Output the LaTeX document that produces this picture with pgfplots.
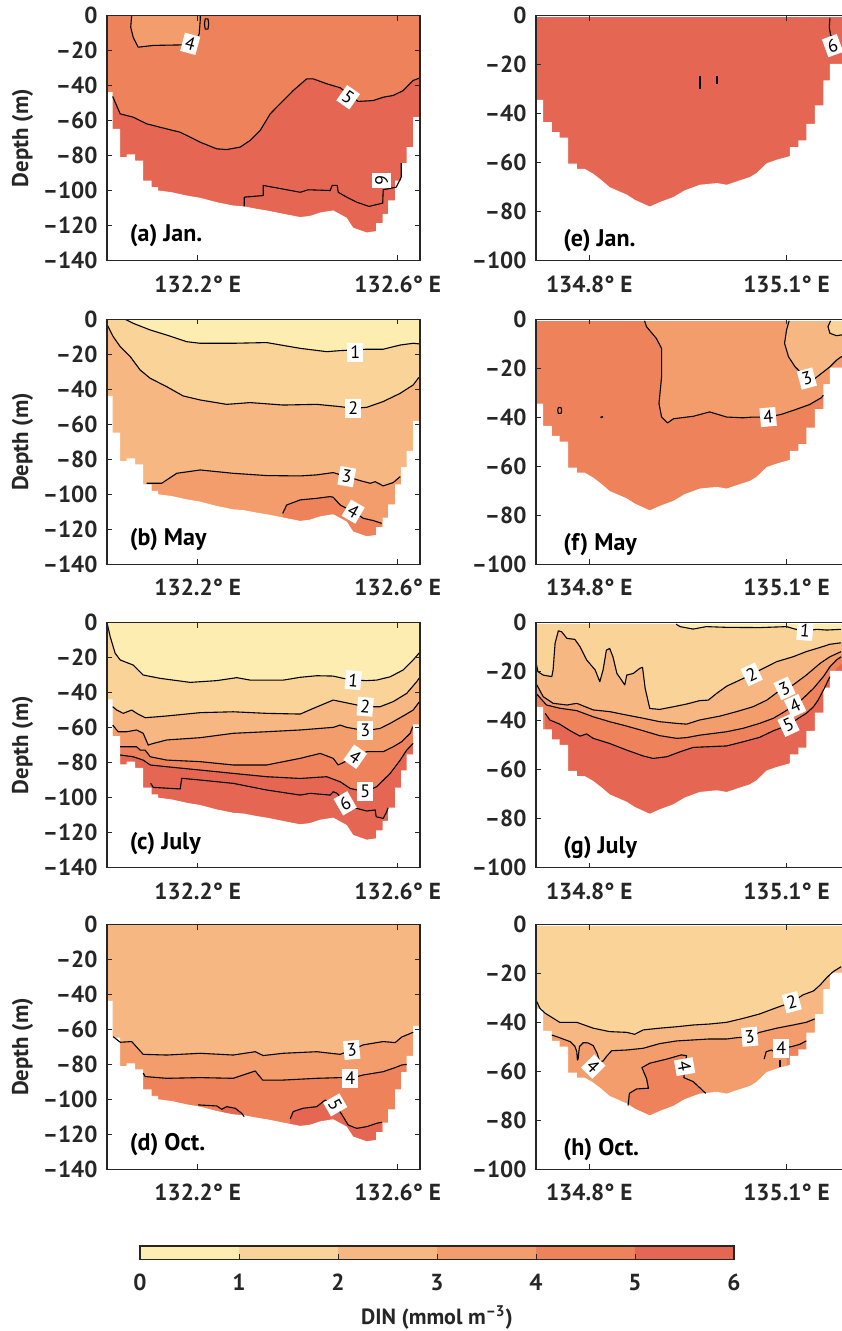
\documentclass[border=0pt]{standalone}
\usepackage{fontspec}
\setmainfont{PT Sans}
\usepackage{pgfplots}
\usepackage{pgfplotstable}
\pgfplotsset{compat=1.18}

\definecolor{c1}{HTML}{FDEDB0}
\definecolor{c2}{HTML}{FAD398}
\definecolor{c3}{HTML}{F6B782}
\definecolor{c4}{HTML}{F29D6B}
\definecolor{c5}{HTML}{ED825B}
\definecolor{c6}{HTML}{E46653}
\definecolor{axgray}{HTML}{262626}

% sea floor, left section (white below it)
\pgfplotstableread{
x y
132.000 -43.8
132.030 -43.8
132.030 -64.8
132.045 -64.8
132.045 -81.0
132.058 -81.0
132.058 -79.4
132.075 -79.4
132.075 -82.9
132.091 -82.9
132.091 -94.3
132.108 -94.3
132.108 -98.1
132.121 -98.1
132.121 -100.0
132.148 -101.0
132.178 -102.9
132.205 -104.2
132.238 -106.7
132.271 -108.6
132.293 -109.1
132.318 -110.5
132.338 -111.4
132.371 -113.3
132.405 -115.2
132.425 -114.5
132.445 -112.6
132.471 -111.4
132.498 -115.6
132.511 -121.3
132.538 -124.0
132.557 -123.2
132.557 -118.7
132.570 -118.7
132.570 -113.3
132.581 -113.3
132.581 -105.7
132.595 -105.7
132.595 -94.3
132.607 -94.3
132.607 -84.4
132.618 -84.4
132.618 -75.2
132.631 -75.2
132.631 -58.1
132.660 -58.1
132.660 -150
132.000 -150
}\bathyL

% sea floor, right section
\pgfplotstableread{
x y
134.700 -34.4
134.730 -34.4
134.730 -43.5
134.743 -43.5
134.743 -47.6
134.755 -47.6
134.755 -49.9
134.768 -49.9
134.768 -60.5
134.781 -60.5
134.781 -62.6
134.793 -62.6
134.806 -64.6
134.819 -67.3
134.831 -70.1
134.857 -73.1
134.869 -75.2
134.892 -78.0
134.907 -76.2
134.928 -74.1
134.945 -71.4
134.968 -69.1
134.994 -68.4
135.009 -69.1
135.029 -67.3
135.044 -66.0
135.054 -64.4
135.070 -60.3
135.085 -58.9
135.105 -57.4
135.105 -53.7
135.118 -53.7
135.118 -51.0
135.130 -51.0
135.130 -44.2
135.143 -44.2
135.143 -36.7
135.156 -36.7
135.156 -26.5
135.166 -26.5
135.166 -19.7
135.210 -19.7
135.210 -150
134.700 -150
}\bathyR

\tikzset{
  cl/.style={black, line width=0.55pt, line join=round},
  clab/.style={fill=white, inner sep=1.5pt, font=\fontsize{9}{10}\selectfont},
  plab/.style={anchor=west, font=\bfseries\fontsize{12}{14}\selectfont, text=black},
}
\pgfplotsset{
  panel/.style={
    scale only axis, width=156.5pt, height=122.5pt, anchor=north west,
    axis on top, tick align=inside, major tick length=2.6pt,
    axis line style={axgray, line width=0.6pt},
    every tick/.append style={axgray, line width=0.5pt},
    tick label style={font=\bfseries\fontsize{11.6}{13}\selectfont, text=axgray},
    xticklabel style={anchor=base, yshift=-15.8pt},
    yticklabel style={anchor=east, xshift=-1.2pt},
  },
  panelL/.style={panel,
    xmin=132.0186, xmax=132.6446, ymin=-140, ymax=0,
    xtick={132.2,132.6}, xticklabels={132.2° E,132.6° E},
    ytick={-140,-120,-100,-80,-60,-40,-20,0},
    yticklabels={–140,–120,–100,–80,–60,–40,–20,0},
    ylabel={Depth (m)},
    ylabel style={at={(rel axis cs:-0.27,0.5)}, anchor=center,
      font=\bfseries\fontsize{11.4}{13}\selectfont, text=axgray},
  },
  panelR/.style={panel,
    xmin=134.719, xmax=135.195, ymin=-100, ymax=0,
    xtick={134.8,135.1}, xticklabels={134.8° E,135.1° E},
    ytick={-100,-80,-60,-40,-20,0},
    yticklabels={–100,–80,–60,–40,–20,0},
  },
}

\begin{document}
\begin{tikzpicture}

% ---------------- (a) Jan.
\begin{axis}[panelL, at={(53.5pt,-7.75pt)}]
\addplot[fill=c5, draw=none] coordinates {(132,0) (132.7,0) (132.7,-150) (132,-150)};
\addplot[fill=c6, draw=none] coordinates {(132.030,-46.3) (132.045,-56.2) (132.071,-58.1) (132.098,-61.9) (132.138,-64.8) (132.165,-66.7) (132.205,-72.4) (132.238,-76.2) (132.258,-76.6) (132.285,-75.2) (132.305,-71.4) (132.325,-65.7) (132.345,-56.2) (132.368,-49.5) (132.391,-42.9) (132.418,-36.2) (132.431,-36.2) (132.458,-39.0) (132.485,-41.3) (132.521,-49.1) (132.551,-48.6) (132.571,-46.7) (132.591,-45.7) (132.611,-42.9) (132.631,-37.1) (132.645,-35.6) (132.7,-35.6) (132.7,-150) (132.030,-150)};
\addplot[fill=c4, draw=none] coordinates {(132.068,0) (132.066,-6.7) (132.071,-12.4) (132.081,-18.1) (132.111,-17.1) (132.168,-16.8) (132.195,-15.2) (132.203,-10.5) (132.205,-2.9) (132.205,0)};
\addplot[fill=white, draw=none] table[x=x, y=y] {\bathyL};
\addplot[cl] coordinates {(132.030,-46.3) (132.045,-56.2) (132.071,-58.1) (132.098,-61.9) (132.138,-64.8) (132.165,-66.7) (132.205,-72.4) (132.238,-76.2) (132.258,-76.6) (132.285,-75.2) (132.305,-71.4) (132.325,-65.7) (132.345,-56.2) (132.368,-49.5) (132.391,-42.9) (132.418,-36.2) (132.431,-36.2) (132.458,-39.0) (132.485,-41.3) (132.521,-49.1) (132.551,-48.6) (132.571,-46.7) (132.591,-45.7) (132.611,-42.9) (132.631,-37.1) (132.645,-35.6)};
\addplot[cl] coordinates {(132.068,0) (132.066,-6.7) (132.071,-12.4) (132.081,-18.1) (132.111,-17.1) (132.168,-16.8) (132.195,-15.2) (132.203,-10.5) (132.205,-2.9) (132.205,0)};
\addplot[cl] coordinates {(132.215,-1.9) (132.2205,-1.9) (132.222,-4.8) (132.2205,-7.8) (132.215,-7.8) (132.2135,-4.8) (132.215,-1.9)};
\addplot[cl] coordinates {(132.293,-109.1) (132.293,-103.8) (132.331,-102.9) (132.331,-97.1) (132.405,-101.0) (132.421,-99.6) (132.465,-100) (132.469,-97.1) (132.479,-97.1) (132.481,-101) (132.498,-103.8) (132.518,-106.7) (132.543,-109.1) (132.57,-107.2) (132.571,-99.6) (132.581,-99.0) (132.597,-98.1) (132.607,-92.4) (132.607,-84.4)};
\node[clab, rotate=-15] at (axis cs:132.185,-16.2) {4};
\node[clab, rotate=-35] at (axis cs:132.501,-46.7) {5};
\node[clab, rotate=-90] at (axis cs:132.568,-94.3) {6};
\node[plab] at (axis cs:132.05,-126) {(a) Jan.};
\end{axis}

% ---------------- (b) May
\begin{axis}[panelL, at={(53.5pt,-159.65pt)}]
\addplot[fill=c4, draw=none] coordinates {(132,0) (132.7,0) (132.7,-150) (132,-150)};
\addplot[fill=c3, draw=none] coordinates {(132,0) (132,-150) (132.098,-150) (132.098,-93.7) (132.128,-93.7) (132.138,-91.8) (132.158,-88.0) (132.205,-86.1) (132.271,-88.0) (132.338,-89.3) (132.405,-89.5) (132.438,-88.9) (132.471,-87.6) (132.498,-89.9) (132.525,-92.2) (132.545,-93.7) (132.555,-92.8) (132.571,-95.2) (132.591,-93.3) (132.605,-89.9) (132.7,-89.9) (132.7,0)};
\addplot[fill=c2, draw=none] coordinates {(132,0) (132,-3.2) (132.019,-3.2) (132.031,-9.9) (132.045,-15.6) (132.065,-21.3) (132.085,-29.0) (132.105,-33.7) (132.138,-38.5) (132.171,-43.8) (132.205,-46.1) (132.258,-48.6) (132.305,-47.6) (132.371,-49.0) (132.438,-48.6) (132.485,-49.9) (132.511,-50.9) (132.538,-50.3) (132.571,-47.0) (132.605,-42.3) (132.631,-37.5) (132.641,-33.7) (132.645,-32.8) (132.7,-32.8) (132.7,0)};
\addplot[fill=c1, draw=none] coordinates {(132.055,0) (132.071,-2.3) (132.105,-6.1) (132.138,-9.0) (132.178,-12.8) (132.205,-13.7) (132.271,-13.7) (132.338,-13.3) (132.405,-16.6) (132.458,-18.5) (132.485,-17.9) (132.538,-17.1) (132.571,-17.1) (132.605,-14.7) (132.631,-13.7) (132.645,-14.1) (132.7,-14.1) (132.7,0)};
\addplot[fill=c5, draw=none] coordinates {(132.37,-110.9) (132.378,-106.1) (132.405,-103.2) (132.438,-102.3) (132.465,-101.3) (132.471,-101.7) (132.485,-106.1) (132.511,-109.9) (132.531,-113.7) (132.551,-115.0) (132.568,-116.6) (132.568,-150) (132.37,-150)};
\addplot[fill=white, draw=none] table[x=x, y=y] {\bathyL};
\addplot[cl] coordinates {(132.055,0) (132.071,-2.3) (132.105,-6.1) (132.138,-9.0) (132.178,-12.8) (132.205,-13.7) (132.271,-13.7) (132.338,-13.3) (132.405,-16.6) (132.458,-18.5) (132.485,-17.9) (132.538,-17.1) (132.571,-17.1) (132.605,-14.7) (132.631,-13.7) (132.645,-14.1)};
\addplot[cl] coordinates {(132.019,-3.2) (132.031,-9.9) (132.045,-15.6) (132.065,-21.3) (132.085,-29.0) (132.105,-33.7) (132.138,-38.5) (132.171,-43.8) (132.205,-46.1) (132.258,-48.6) (132.305,-47.6) (132.371,-49.0) (132.438,-48.6) (132.485,-49.9) (132.511,-50.9) (132.538,-50.3) (132.571,-47.0) (132.605,-42.3) (132.631,-37.5) (132.641,-33.7) (132.645,-32.8)};
\addplot[cl] coordinates {(132.098,-93.7) (132.128,-93.7) (132.138,-91.8) (132.158,-88.0) (132.205,-86.1) (132.271,-88.0) (132.338,-89.3) (132.405,-89.5) (132.438,-88.9) (132.471,-87.6) (132.498,-89.9) (132.525,-92.2) (132.545,-93.7) (132.555,-92.8) (132.571,-95.2) (132.591,-93.3) (132.605,-89.9)};
\addplot[cl] coordinates {(132.37,-110.9) (132.378,-106.1) (132.405,-103.2) (132.438,-102.3) (132.465,-101.3) (132.471,-101.7) (132.485,-106.1) (132.511,-109.9) (132.531,-113.7) (132.551,-115.0) (132.568,-116.6)};
\node[clab] at (axis cs:132.515,-19.0) {1};
\node[clab] at (axis cs:132.511,-50.9) {2};
\node[clab, rotate=-10] at (axis cs:132.498,-89.9) {3};
\node[clab, rotate=-30] at (axis cs:132.511,-109.9) {4};
\node[plab] at (axis cs:132.05,-126) {(b) May};
\end{axis}

% ---------------- (c) July
\begin{axis}[panelL, at={(53.5pt,-311.35pt)}]
\addplot[fill=c6, draw=none] coordinates {(132,0) (132.7,0) (132.7,-150) (132,-150)};
\addplot[fill=c5, draw=none] coordinates {(132,0) (132,-150) (132.045,-150) (132.045,-75.6) (132.071,-76.6) (132.091,-78.5) (132.105,-81.3) (132.138,-82.3) (132.205,-84.2) (132.271,-86.1) (132.338,-88.0) (132.405,-89.0) (132.458,-88.0) (132.485,-90.9) (132.505,-94.7) (132.535,-96.6) (132.558,-93.7) (132.585,-86.1) (132.605,-78.5) (132.618,-72.8) (132.631,-69.0) (132.7,-69.0) (132.7,0)};
\addplot[fill=c4, draw=none] coordinates {(132,0) (132,-150) (132.045,-150) (132.045,-70.9) (132.078,-70.9) (132.085,-72.8) (132.095,-72.8) (132.105,-76.6) (132.138,-78.5) (132.205,-79.4) (132.271,-81.3) (132.338,-81.3) (132.405,-77.5) (132.445,-74.7) (132.471,-77.5) (132.481,-81.3) (132.515,-76.6) (132.538,-73.7) (132.571,-73.7) (132.591,-70.9) (132.608,-68.0) (132.625,-63.2) (132.63,-59.4) (132.7,-59.4) (132.7,0)};
\addplot[fill=c3, draw=none] coordinates {(132,0) (132,-150) (132.03,-150) (132.03,-58.5) (132.041,-62.3) (132.058,-62.3) (132.078,-61.3) (132.091,-63.2) (132.101,-69.9) (132.111,-69.0) (132.138,-67.0) (132.205,-65.7) (132.271,-63.2) (132.338,-62.3) (132.405,-61.3) (132.471,-59.8) (132.485,-58.5) (132.498,-59.8) (132.535,-61.7) (132.565,-60.4) (132.585,-57.5) (132.611,-53.3) (132.631,-49.9) (132.641,-46.1) (132.645,-44.6) (132.7,-44.6) (132.7,0)};
\addplot[fill=c2, draw=none] coordinates {(132,0) (132,-150) (132.03,-150) (132.03,-48.0) (132.038,-49.9) (132.051,-51.8) (132.068,-49.9) (132.078,-51.8) (132.095,-54.3) (132.138,-53.3) (132.205,-51.4) (132.271,-50.9) (132.338,-51.8) (132.405,-52.2) (132.431,-49.0) (132.471,-44.2) (132.535,-48.0) (132.565,-48.0) (132.591,-45.1) (132.618,-40.4) (132.638,-33.7) (132.645,-30.9) (132.7,-30.9) (132.7,0)};
\addplot[fill=c1, draw=none] coordinates {(132.019,0) (132.019,-0.4) (132.025,-8.0) (132.035,-17.5) (132.045,-21.3) (132.071,-24.2) (132.091,-29.9) (132.125,-31.8) (132.185,-34.1) (132.238,-33.1) (132.278,-31.4) (132.305,-32.8) (132.371,-32.8) (132.405,-31.2) (132.438,-30.3) (132.471,-30.5) (132.491,-31.8) (132.511,-32.8) (132.538,-33.1) (132.558,-32.8) (132.585,-30.9) (132.611,-27.0) (132.631,-21.3) (132.645,-16.6) (132.7,-16.6) (132.7,0)};
\addplot[fill=white, draw=none] table[x=x, y=y] {\bathyL};
\addplot[cl] coordinates {(132.045,-75.6) (132.071,-76.6) (132.091,-78.5) (132.105,-81.3) (132.138,-82.3) (132.205,-84.2) (132.271,-86.1) (132.338,-88.0) (132.405,-89.0) (132.458,-88.0) (132.485,-90.9) (132.505,-94.7) (132.535,-96.6) (132.558,-93.7) (132.585,-86.1) (132.605,-78.5) (132.618,-72.8) (132.631,-69.0)};
\addplot[cl] coordinates {(132.045,-70.9) (132.078,-70.9) (132.085,-72.8) (132.095,-72.8) (132.105,-76.6) (132.138,-78.5) (132.205,-79.4) (132.271,-81.3) (132.338,-81.3) (132.405,-77.5) (132.445,-74.7) (132.471,-77.5) (132.481,-81.3) (132.515,-76.6) (132.538,-73.7) (132.571,-73.7) (132.591,-70.9) (132.608,-68.0) (132.625,-63.2) (132.63,-59.4)};
\addplot[cl] coordinates {(132.03,-58.5) (132.041,-62.3) (132.058,-62.3) (132.078,-61.3) (132.091,-63.2) (132.101,-69.9) (132.111,-69.0) (132.138,-67.0) (132.205,-65.7) (132.271,-63.2) (132.338,-62.3) (132.405,-61.3) (132.471,-59.8) (132.485,-58.5) (132.498,-59.8) (132.535,-61.7) (132.565,-60.4) (132.585,-57.5) (132.611,-53.3) (132.631,-49.9) (132.641,-46.1) (132.645,-44.6)};
\addplot[cl] coordinates {(132.03,-48.0) (132.038,-49.9) (132.051,-51.8) (132.068,-49.9) (132.078,-51.8) (132.095,-54.3) (132.138,-53.3) (132.205,-51.4) (132.271,-50.9) (132.338,-51.8) (132.405,-52.2) (132.431,-49.0) (132.471,-44.2) (132.535,-48.0) (132.565,-48.0) (132.591,-45.1) (132.618,-40.4) (132.638,-33.7) (132.645,-30.9)};
\addplot[cl] coordinates {(132.019,-0.4) (132.025,-8.0) (132.035,-17.5) (132.045,-21.3) (132.071,-24.2) (132.091,-29.9) (132.125,-31.8) (132.185,-34.1) (132.238,-33.1) (132.278,-31.4) (132.305,-32.8) (132.371,-32.8) (132.405,-31.2) (132.438,-30.3) (132.471,-30.5) (132.491,-31.8) (132.511,-32.8) (132.538,-33.1) (132.558,-32.8) (132.585,-30.9) (132.611,-27.0) (132.631,-21.3) (132.645,-16.6)};
\addplot[cl] coordinates {(132.106,-91.8) (132.111,-94.1) (132.165,-95.0) (132.168,-88.9) (132.205,-89.9) (132.271,-91.8) (132.338,-95.6) (132.405,-98.5) (132.425,-97.5) (132.465,-98.5) (132.471,-96.6) (132.479,-97.5) (132.495,-103.2) (132.518,-106.1) (132.538,-107.6) (132.555,-107.0) (132.557,-110.9) (132.571,-111.8) (132.578,-108.0) (132.581,-105.7)};
\node[clab, rotate=-5] at (axis cs:132.511,-32.8) {1};
\node[clab, rotate=-5] at (axis cs:132.535,-48.0) {2};
\node[clab] at (axis cs:132.535,-61.7) {3};
\node[clab, rotate=-35] at (axis cs:132.515,-76.6) {4};
\node[clab] at (axis cs:132.535,-96.6) {5};
\node[clab, rotate=30] at (axis cs:132.495,-103.2) {6};
\node[plab] at (axis cs:132.05,-126) {(c) July};
\end{axis}

% ---------------- (d) Oct.
\begin{axis}[panelL, at={(53.5pt,-462.15pt)}]
\addplot[fill=c3, draw=none] coordinates {(132,0) (132.7,0) (132.7,-150) (132,-150)};
\addplot[fill=c4, draw=none] coordinates {(132.031,-64.2) (132.045,-67.4) (132.068,-67.0) (132.091,-74.3) (132.138,-74.7) (132.205,-73.7) (132.271,-74.7) (132.315,-72.8) (132.331,-75.0) (132.371,-73.7) (132.438,-72.8) (132.485,-74.3) (132.508,-71.8) (132.531,-68.9) (132.571,-67.0) (132.595,-67.6) (132.608,-64.4) (132.631,-61.7) (132.631,-150) (132.031,-150)};
\addplot[fill=c5, draw=none] coordinates {(132.091,-85.0) (132.095,-87.0) (132.138,-88.0) (132.205,-87.6) (132.271,-88.0) (132.315,-83.8) (132.33,-89.0) (132.371,-89.0) (132.438,-88.0) (132.485,-87.6) (132.505,-88.0) (132.531,-86.1) (132.571,-84.2) (132.591,-82.3) (132.608,-80.4) (132.618,-80.0) (132.618,-150) (132.091,-150)};
\addplot[fill=c6, draw=none] coordinates {(132.248,-105.7) (132.258,-104.2) (132.275,-105.1) (132.288,-108.0) (132.293,-109.9) (132.293,-150) (132.248,-150)};
\addplot[fill=c6, draw=none] coordinates {(132.385,-111.2) (132.391,-107.0) (132.411,-105.1) (132.438,-104.2) (132.455,-100.4) (132.475,-103.2) (132.488,-108.6) (132.501,-114.7) (132.518,-116.6) (132.538,-115.6) (132.558,-113.7) (132.568,-113.1) (132.568,-150) (132.385,-150)};
\addplot[fill=white, draw=none] table[x=x, y=y] {\bathyL};
\addplot[cl] coordinates {(132.031,-64.2) (132.045,-67.4) (132.068,-67.0) (132.091,-74.3) (132.138,-74.7) (132.205,-73.7) (132.271,-74.7) (132.315,-72.8) (132.331,-75.0) (132.371,-73.7) (132.438,-72.8) (132.485,-74.3) (132.508,-71.8) (132.531,-68.9) (132.571,-67.0) (132.595,-67.6) (132.608,-64.4) (132.631,-61.7)};
\addplot[cl] coordinates {(132.091,-85.0) (132.095,-87.0) (132.138,-88.0) (132.205,-87.6) (132.271,-88.0) (132.315,-83.8) (132.33,-89.0) (132.371,-89.0) (132.438,-88.0) (132.485,-87.6) (132.505,-88.0) (132.531,-86.1) (132.571,-84.2) (132.591,-82.3) (132.608,-80.4) (132.618,-80.0)};
\addplot[cl] coordinates {(132.201,-103.2) (132.238,-103.8) (132.248,-105.7) (132.258,-104.2) (132.275,-105.1) (132.288,-108.0) (132.293,-109.9)};
\addplot[cl] coordinates {(132.385,-111.2) (132.391,-107.0) (132.411,-105.1) (132.438,-104.2) (132.455,-100.4) (132.475,-103.2) (132.488,-108.6) (132.501,-114.7) (132.518,-116.6) (132.538,-115.6) (132.558,-113.7) (132.568,-113.1)};
\node[clab, rotate=5] at (axis cs:132.508,-71.8) {3};
\node[clab] at (axis cs:132.505,-88.0) {4};
\node[clab, rotate=-60] at (axis cs:132.475,-103.2) {5};
\node[plab] at (axis cs:132.05,-126) {(d) Oct.};
\end{axis}

% ---------------- (e) Jan.
\begin{axis}[panelR, at={(268pt,-7.75pt)}]
\addplot[fill=c6, draw=none] coordinates {(134.7,0) (135.21,0) (135.21,-150) (134.7,-150)};
\addplot[fill=white, draw=none] coordinates {(134.7,0) (135.21,0) (135.21,-0.6) (134.7,-0.6)};
\addplot[fill=white, draw=none] table[x=x, y=y] {\bathyR};
\addplot[cl] coordinates {(135.166,-1.0) (135.165,-4.8) (135.167,-8.0) (135.170,-9.0)};
\addplot[black, line width=0.9pt] coordinates {(134.968,-24.5) (134.968,-29.9)};
\addplot[black, line width=0.9pt] coordinates {(134.994,-24.9) (134.994,-27.9)};
\node[clab, rotate=20] at (axis cs:135.170,-12.3) {6};
\node[plab] at (axis cs:134.750,-91.8) {(e) Jan.};
\end{axis}

% ---------------- (f) May
\begin{axis}[panelR, at={(268pt,-159.65pt)}]
\addplot[fill=c5, draw=none] coordinates {(134.7,0) (135.21,0) (135.21,-150) (134.7,-150)};
\addplot[fill=c4, draw=none] coordinates {(134.884,0) (134.887,-3.0) (134.902,-7.8) (134.91,-11.9) (134.91,-23.5) (134.906,-34.4) (134.91,-39.9) (134.919,-42.3) (134.928,-40.6) (134.958,-39.6) (134.983,-37.8) (135.009,-39.9) (135.034,-40.2) (135.049,-39.9) (135.072,-39.9) (135.092,-38.8) (135.110,-37.2) (135.135,-34.8) (135.153,-32.0) (135.156,-31.0) (135.21,-31.0) (135.21,0)};
\addplot[fill=c3, draw=none] coordinates {(135.104,0) (135.1,-4.4) (135.097,-9.8) (135.103,-15.3) (135.113,-19.4) (135.123,-22.1) (135.131,-24.2) (135.143,-24.2) (135.153,-22.1) (135.166,-19.4) (135.176,-16.7) (135.183,-15.3) (135.21,-14.5) (135.21,0)};
\addplot[fill=c2, draw=none] coordinates {(135.167,0) (135.163,-3.0) (135.166,-5.7) (135.176,-6.7) (135.183,-6.4) (135.21,-6.0) (135.21,0)};
\addplot[fill=white, draw=none] coordinates {(134.7,0) (135.21,0) (135.21,-0.6) (134.7,-0.6)};
\addplot[fill=white, draw=none] table[x=x, y=y] {\bathyR};
\addplot[cl] coordinates {(134.884,-0.6) (134.887,-3.0) (134.902,-7.8) (134.91,-11.9) (134.91,-23.5) (134.906,-34.4) (134.91,-39.9) (134.919,-42.3) (134.928,-40.6) (134.958,-39.6) (134.983,-37.8) (135.009,-39.9) (135.034,-40.2) (135.049,-39.9) (135.072,-39.9) (135.092,-38.8) (135.110,-37.2) (135.135,-34.8) (135.153,-32.0) (135.156,-31.0)};
\addplot[cl] coordinates {(135.104,-0.6) (135.1,-4.4) (135.097,-9.8) (135.103,-15.3) (135.113,-19.4) (135.123,-22.1) (135.131,-24.2) (135.143,-24.2) (135.153,-22.1) (135.166,-19.4) (135.176,-16.7) (135.183,-15.3) (135.21,-14.5)};
\addplot[cl] coordinates {(135.167,-0.6) (135.163,-3.0) (135.166,-5.7) (135.176,-6.7) (135.183,-6.4) (135.21,-6.0)};
\addplot[cl] coordinates {(134.753,-36.0) (134.757,-36.0) (134.758,-37.2) (134.757,-38.4) (134.753,-38.4) (134.752,-37.2) (134.753,-36.0)};
\addplot[black, line width=1.3pt] coordinates {(134.8187,-39.6) (134.8193,-40.2)};
\node[clab, rotate=15] at (axis cs:135.131,-24.2) {3};
\node[clab, rotate=5] at (axis cs:135.072,-39.9) {4};
\node[plab] at (axis cs:134.750,-91.8) {(f) May};
\end{axis}

% ---------------- (g) July
\begin{axis}[panelR, at={(268pt,-311.35pt)}]
\addplot[fill=c6, draw=none] coordinates {(134.7,0) (135.21,0) (135.21,-150) (134.7,-150)};
\addplot[fill=c5, draw=none] coordinates {(134.7,0) (134.7,-150) (134.733,-150) (134.733,-37.0) (134.74,-39.7) (134.755,-41.4) (134.771,-44.1) (134.786,-46.3) (134.796,-45.4) (134.806,-47.2) (134.831,-49.3) (134.857,-52.0) (134.882,-54.4) (134.897,-55.4) (134.918,-54.7) (134.938,-52.7) (134.958,-50.9) (134.983,-50.6) (135.009,-50.3) (135.034,-48.6) (135.059,-46.8) (135.08,-44.1) (135.103,-41.8) (135.118,-39.0) (135.13,-37.0) (135.141,-34.3) (135.148,-31.6) (135.156,-27.5) (135.161,-24.8) (135.168,-21.4) (135.176,-18.6) (135.183,-16.9) (135.21,-16.9) (135.21,0)};
\addplot[fill=c4, draw=none] coordinates {(134.7,0) (134.7,-28.8) (134.719,-28.8) (134.735,-33.6) (134.755,-34.9) (134.781,-35.9) (134.806,-38.4) (134.831,-40.4) (134.857,-42.2) (134.882,-44.1) (134.907,-46.1) (134.933,-47.2) (134.948,-46.9) (134.968,-45.9) (135.009,-44.5) (135.034,-43.1) (135.059,-41.1) (135.08,-39.0) (135.097,-36.3) (135.113,-33.6) (135.125,-30.9) (135.141,-26.8) (135.156,-22.0) (135.166,-18.0) (135.176,-15.2) (135.183,-13.9) (135.21,-13.9) (135.21,0)};
\addplot[fill=c3, draw=none] coordinates {(134.7,0) (134.7,-24.8) (134.719,-24.8) (134.73,-30.2) (134.745,-32.9) (134.766,-33.6) (134.781,-32.9) (134.806,-35.6) (134.831,-36.3) (134.857,-37.7) (134.882,-39.0) (134.907,-40.4) (134.933,-41.1) (134.948,-41.4) (134.968,-39.7) (134.999,-38.1) (135.024,-36.3) (135.049,-34.3) (135.07,-31.6) (135.092,-27.2) (135.11,-25.4) (135.13,-21.4) (135.151,-16.6) (135.166,-13.9) (135.183,-11.8) (135.21,-11.8) (135.21,0)};
\addplot[fill=c2, draw=none] coordinates {(134.7,0) (134.7,-16.3) (134.719,-16.3) (134.722,-20.0) (134.730,-21.4) (134.743,-22.0) (134.745,-19.3) (134.748,-8.4) (134.753,-3.3) (134.758,-3.7) (134.766,-6.4) (134.778,-6.8) (134.786,-9.8) (134.796,-15.2) (134.809,-19.3) (134.816,-24.1) (134.821,-19.3) (134.826,-11.2) (134.831,-10.5) (134.836,-13.9) (134.842,-20.7) (134.849,-23.4) (134.854,-25.4) (134.857,-21.4) (134.867,-20.7) (134.877,-18.6) (134.881,-18.2) (134.885,-26.8) (134.892,-35.0) (134.907,-35.4) (134.928,-34.3) (134.948,-33.2) (134.968,-31.8) (134.981,-31.6) (134.994,-28.8) (135.009,-25.9) (135.029,-23.4) (135.047,-21.1) (135.065,-18.6) (135.085,-15.9) (135.11,-13.9) (135.13,-11.8) (135.151,-10.1) (135.166,-8.8) (135.183,-8.2) (135.21,-8.2) (135.21,0)};
\addplot[fill=c1, draw=none] coordinates {(134.932,0) (134.938,-1.6) (134.958,-2.6) (134.978,-1.6) (135.009,-1.9) (135.059,-2.0) (135.1,-1.6) (135.113,-2.6) (135.128,-3.4) (135.146,-2.7) (135.161,-3.0) (135.183,-2.7) (135.21,-2.7) (135.21,0)};
\addplot[fill=white, draw=none] coordinates {(134.7,0) (135.21,0) (135.21,-0.6) (134.7,-0.6)};
\addplot[fill=white, draw=none] table[x=x, y=y] {\bathyR};
\addplot[cl] coordinates {(134.733,-37.0) (134.74,-39.7) (134.755,-41.4) (134.771,-44.1) (134.786,-46.3) (134.796,-45.4) (134.806,-47.2) (134.831,-49.3) (134.857,-52.0) (134.882,-54.4) (134.897,-55.4) (134.918,-54.7) (134.938,-52.7) (134.958,-50.9) (134.983,-50.6) (135.009,-50.3) (135.034,-48.6) (135.059,-46.8) (135.08,-44.1) (135.103,-41.8) (135.118,-39.0) (135.13,-37.0) (135.141,-34.3) (135.148,-31.6) (135.156,-27.5) (135.161,-24.8) (135.166,-22.0)};
\addplot[cl] coordinates {(134.719,-28.8) (134.735,-33.6) (134.755,-34.9) (134.781,-35.9) (134.806,-38.4) (134.831,-40.4) (134.857,-42.2) (134.882,-44.1) (134.907,-46.1) (134.933,-47.2) (134.948,-46.9) (134.968,-45.9) (135.009,-44.5) (135.034,-43.1) (135.059,-41.1) (135.08,-39.0) (135.097,-36.3) (135.113,-33.6) (135.125,-30.9) (135.141,-26.8) (135.156,-22.0) (135.166,-18.0) (135.176,-15.2) (135.183,-13.9)};
\addplot[cl] coordinates {(134.719,-24.8) (134.73,-30.2) (134.745,-32.9) (134.766,-33.6) (134.781,-32.9) (134.806,-35.6) (134.831,-36.3) (134.857,-37.7) (134.882,-39.0) (134.907,-40.4) (134.933,-41.1) (134.948,-41.4) (134.968,-39.7) (134.999,-38.1) (135.024,-36.3) (135.049,-34.3) (135.07,-31.6) (135.092,-27.2) (135.11,-25.4) (135.13,-21.4) (135.151,-16.6) (135.166,-13.9) (135.183,-11.8)};
\addplot[cl] coordinates {(134.719,-16.3) (134.722,-20.0) (134.730,-21.4) (134.743,-22.0) (134.745,-19.3) (134.748,-8.4) (134.753,-3.3) (134.758,-3.7) (134.766,-6.4) (134.778,-6.8) (134.786,-9.8) (134.796,-15.2) (134.809,-19.3) (134.816,-24.1) (134.821,-19.3) (134.826,-11.2) (134.831,-10.5) (134.836,-13.9) (134.842,-20.7) (134.849,-23.4) (134.854,-25.4) (134.857,-21.4) (134.867,-20.7) (134.877,-18.6) (134.881,-18.2) (134.885,-26.8) (134.892,-35.0) (134.907,-35.4) (134.928,-34.3) (134.948,-33.2) (134.968,-31.8) (134.981,-31.6) (134.994,-28.8) (135.009,-25.9) (135.029,-23.4) (135.047,-21.1) (135.065,-18.6) (135.085,-15.9) (135.11,-13.9) (135.13,-11.8) (135.151,-10.1) (135.166,-8.8) (135.183,-8.2)};
\addplot[cl] coordinates {(134.932,-0.6) (134.938,-1.6) (134.958,-2.6) (134.978,-1.6) (135.009,-1.9) (135.059,-2.0) (135.1,-1.6) (135.113,-2.6) (135.128,-3.4) (135.146,-2.7) (135.161,-3.0) (135.183,-2.7)};
\node[clab, rotate=-5] at (axis cs:135.128,-3.4) {1};
\node[clab, rotate=25] at (axis cs:135.047,-21.1) {2};
\node[clab, rotate=25] at (axis cs:135.097,-26.8) {3};
\node[clab, rotate=25] at (axis cs:135.113,-33.9) {4};
\node[clab, rotate=25] at (axis cs:135.103,-41.8) {5};
\node[plab] at (axis cs:134.750,-91.8) {(g) July};
\end{axis}

% ---------------- (h) Oct.
\begin{axis}[panelR, at={(268pt,-462.15pt)}]
\addplot[fill=c2, draw=none] coordinates {(134.7,0) (135.21,0) (135.21,-150) (134.7,-150)};
\addplot[fill=c3, draw=none] coordinates {(134.7,-30.9) (134.719,-30.9) (134.725,-34.3) (134.733,-36.3) (134.755,-40.0) (134.781,-40.0) (134.806,-42.4) (134.831,-43.8) (134.857,-44.1) (134.869,-44.9) (134.882,-43.1) (134.907,-42.4) (134.933,-41.8) (134.958,-41.1) (134.983,-40.7) (135.009,-40.0) (135.034,-38.4) (135.059,-36.6) (135.085,-34.0) (135.108,-31.8) (135.125,-28.8) (135.141,-27.2) (135.151,-24.8) (135.161,-21.8) (135.171,-19.3) (135.183,-17.3) (135.21,-17.3) (135.21,-150) (134.7,-150)};
\addplot[fill=c4, draw=none] coordinates {(134.743,-45.2) (134.755,-46.3) (134.771,-47.9) (134.778,-49.7) (134.781,-52.0) (134.782,-55.4) (134.783,-55.0) (134.785,-49.9) (134.791,-48.3) (134.798,-48.4) (134.806,-49.5) (134.812,-52.7) (134.816,-56.1) (134.821,-55.8) (134.826,-54.0) (134.834,-51.6) (134.857,-51.3) (134.882,-50.6) (134.907,-48.7) (134.933,-47.6) (134.958,-47.2) (134.983,-46.8) (135.009,-46.8) (135.024,-46.3) (135.044,-45.9) (135.059,-44.1) (135.085,-42.4) (135.11,-41.1) (135.13,-40.0) (135.143,-38.6) (135.143,-150) (134.743,-150)};
\addplot[fill=c5, draw=none] coordinates {(134.859,-74.0) (134.861,-69.0) (134.872,-67.2) (134.89,-66.9) (134.887,-62.9) (134.88,-58.5) (134.892,-56.7) (134.918,-55.0) (134.94,-53.3) (134.948,-53.6) (134.945,-58.1) (134.944,-62.6) (134.958,-64.2) (134.968,-66.7) (134.977,-69.0) (134.977,-150) (134.859,-150)};
\addplot[fill=c5, draw=none] coordinates {(135.1,-50.3) (135.108,-49.9) (135.12,-49.0) (135.13,-47.6) (135.13,-150) (135.1,-150)};
\addplot[fill=white, draw=none] coordinates {(134.7,0) (135.21,0) (135.21,-0.6) (134.7,-0.6)};
\addplot[fill=white, draw=none] table[x=x, y=y] {\bathyR};
\addplot[cl] coordinates {(134.719,-30.9) (134.725,-34.3) (134.733,-36.3) (134.755,-40.0) (134.781,-40.0) (134.806,-42.4) (134.831,-43.8) (134.857,-44.1) (134.869,-44.9) (134.882,-43.1) (134.907,-42.4) (134.933,-41.8) (134.958,-41.1) (134.983,-40.7) (135.009,-40.0) (135.034,-38.4) (135.059,-36.6) (135.085,-34.0) (135.108,-31.8) (135.125,-28.8) (135.141,-27.2) (135.151,-24.8) (135.161,-21.8) (135.171,-19.3) (135.183,-17.3)};
\addplot[cl] coordinates {(134.743,-45.2) (134.755,-46.3) (134.771,-47.9) (134.778,-49.7) (134.781,-52.0) (134.782,-55.4) (134.783,-55.0) (134.785,-49.9) (134.791,-48.3) (134.798,-48.4) (134.806,-49.5) (134.812,-52.7) (134.816,-56.1) (134.821,-55.8) (134.826,-54.0) (134.834,-51.6) (134.857,-51.3) (134.882,-50.6) (134.907,-48.7) (134.933,-47.6) (134.958,-47.2) (134.983,-46.8) (135.009,-46.8) (135.024,-46.3) (135.044,-45.9) (135.059,-44.1) (135.085,-42.4) (135.11,-41.1) (135.13,-40.0) (135.143,-38.6)};
\addplot[cl] coordinates {(134.859,-74.0) (134.861,-69.0) (134.872,-67.2) (134.89,-66.9) (134.887,-62.9) (134.88,-58.5) (134.892,-56.7) (134.918,-55.0) (134.94,-53.3) (134.948,-53.6) (134.945,-58.1) (134.944,-62.6) (134.958,-64.2) (134.968,-66.7) (134.977,-69.0)};
\addplot[cl] coordinates {(135.066,-55.0) (135.069,-52.0) (135.077,-51.3) (135.082,-52.2)};
\addplot[cl] coordinates {(135.1,-50.3) (135.108,-49.9) (135.12,-49.0) (135.13,-47.6)};
\addplot[cl] coordinates {(135.09,-55.4) (135.09,-58.1)};
\node[clab, rotate=15] at (axis cs:135.108,-31.8) {2};
\node[clab, rotate=5] at (axis cs:135.044,-45.9) {3};
\node[clab, rotate=-45] at (axis cs:134.806,-58.1) {4};
\node[clab, rotate=-80] at (axis cs:134.945,-58.1) {4};
\node[clab] at (axis cs:135.092,-50.6) {4};
\node[plab] at (axis cs:134.750,-91.8) {(h) Oct.};
\end{axis}

% ---------------- colour bar
\begin{axis}[scale only axis, width=297pt, height=6.65pt, at={(70pt,-623pt)}, anchor=north west,
  xmin=0, xmax=6, ymin=0, ymax=1, axis on top,
  ytick=\empty, xtick={0,1,2,3,4,5,6}, xticklabels={0,1,2,3,4,5,6},
  xtick pos=left, tick align=inside, major tick length=2.5pt,
  axis line style={axgray, line width=0.6pt},
  every tick/.append style={axgray, line width=0.5pt},
  tick label style={font=\bfseries\fontsize{11.6}{13}\selectfont, text=axgray},
  xticklabel style={anchor=base, yshift=-15.5pt},
  xlabel={DIN (mmol m\textsuperscript{–3})},
  xlabel style={at={(rel axis cs:0.5,0)}, anchor=base, yshift=-32.5pt,
    font=\bfseries\fontsize{11}{13}\selectfont, text=axgray}]
\addplot[fill=c1, draw=none] coordinates {(0,0) (1,0) (1,1) (0,1)};
\addplot[fill=c2, draw=none] coordinates {(1,0) (2,0) (2,1) (1,1)};
\addplot[fill=c3, draw=none] coordinates {(2,0) (3,0) (3,1) (2,1)};
\addplot[fill=c4, draw=none] coordinates {(3,0) (4,0) (4,1) (3,1)};
\addplot[fill=c5, draw=none] coordinates {(4,0) (5,0) (5,1) (4,1)};
\addplot[fill=c6, draw=none] coordinates {(5,0) (6,0) (6,1) (5,1)};
\end{axis}

\pgfresetboundingbox
\path[use as bounding box] (0,0) rectangle (420.5pt,-665.5pt);
\end{tikzpicture}
\end{document}
